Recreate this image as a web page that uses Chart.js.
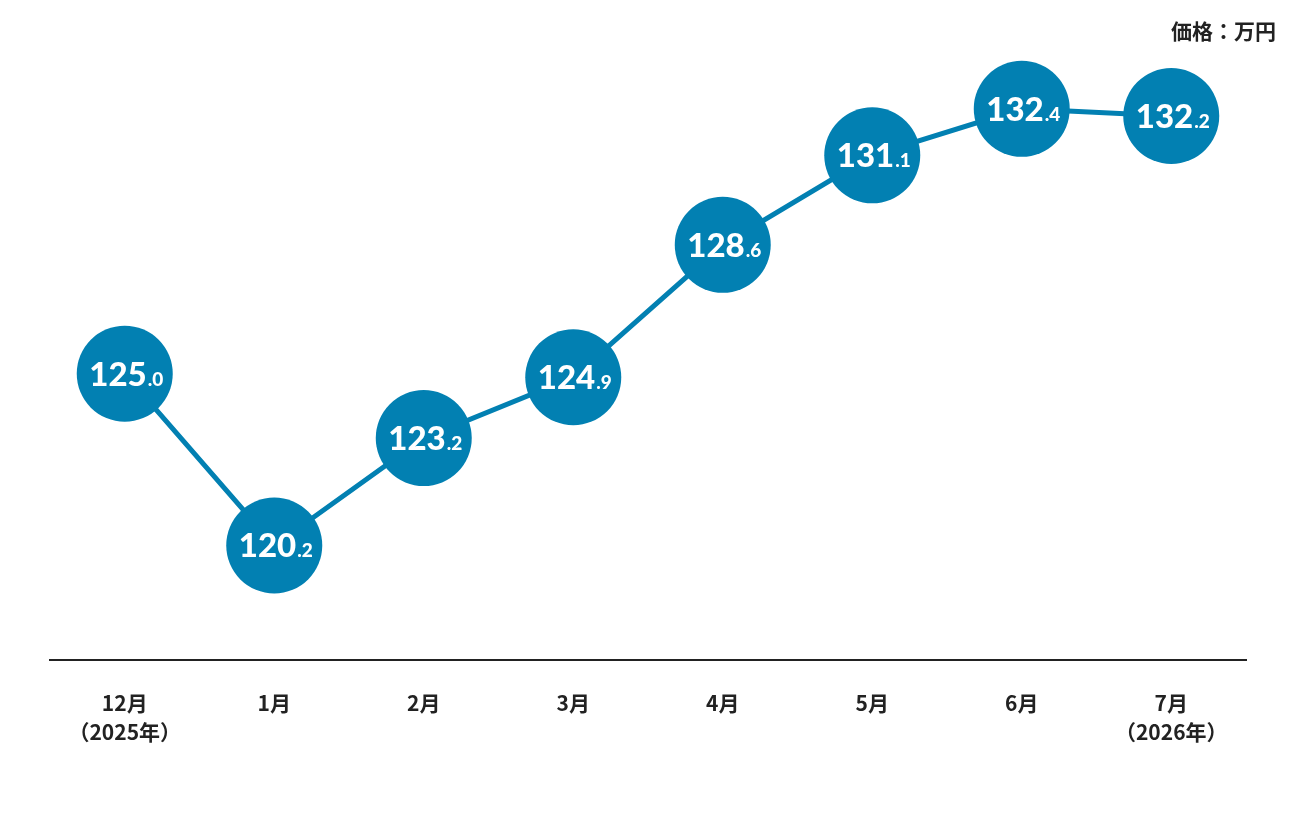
<!DOCTYPE html>
<html>
<head>
<meta charset="utf-8">
<script src="https://cdn.jsdelivr.net/npm/chart.js@4.4.1/dist/chart.umd.min.js"></script>
<style>
  html, body { margin: 0; padding: 0; background: #fff; }
  #wrap { width: 1296px; height: 816px; }
</style>
</head>
<body>
<div id="wrap"><canvas id="price-chart"></canvas></div>
<script>
// months (x labels), two lines where the year is shown
let monthLabels = [['12月', '（2025年）'], '1月', '2月', '3月', '4月', '5月', '6月', ['7月', '（2026年）']];
let priceValues = [125.0, 120.2, 123.2, 124.9, 128.6, 131.1, 132.4, 132.2];
let unitText = '価格：万円';

const blue = '#0280b2';

// big number + small decimal inside each circle
const valueBubbles = {
    id: 'valueBubbles',
    afterDatasetsDraw(chart) {
        const ctx = chart.ctx;
        const meta = chart.getDatasetMeta(0);
        ctx.save();
        ctx.fillStyle = '#fff';
        ctx.textBaseline = 'alphabetic';
        ctx.textAlign = 'left';
        meta.data.forEach((pt, i) => {
            let parts = priceValues[i].toFixed(1).split('.');
            let big = parts[0], small = '.' + parts[1];
            ctx.font = '900 33px Lato';
            let wb = ctx.measureText(big).width;
            ctx.font = '900 19px Lato';
            let ws = ctx.measureText(small).width;
            let x0 = pt.x - (wb + ws) / 2 + 1;
            let yb = pt.y + 12;
            ctx.font = '900 33px Lato';
            ctx.fillText(big, x0, yb);
            ctx.font = '900 19px Lato';
            ctx.fillText(small, x0 + wb + 1, yb);
        });
        ctx.restore();
    }
};

// unit note top right
const unitNote = {
    id: 'unitNote',
    afterDraw(chart) {
        const ctx = chart.ctx;
        ctx.save();
        ctx.font = 'bold 21px "Noto Sans CJK JP"';
        ctx.fillStyle = '#222';
        ctx.textAlign = 'right';
        ctx.textBaseline = 'middle';
        ctx.fillText(unitText, 1276, 31);
        ctx.restore();
    }
};

const priceChart = new Chart(document.getElementById('price-chart'), {
    type: 'line',
    data: {
        labels: monthLabels,
        datasets: [{
            data: priceValues,
            borderColor: blue,
            borderWidth: 5,
            pointRadius: 48,
            pointHoverRadius: 48,
            pointBackgroundColor: blue,
            pointBorderWidth: 0,
            tension: 0,
            clip: false
        }]
    },
    options: {
        responsive: true,
        maintainAspectRatio: false,
        animation: false,
        events: [],
        layout: { padding: { top: 15, left: 50, right: 50, bottom: 0 } },
        plugins: {
            legend: { display: false },
            tooltip: { enabled: false }
        },
        scales: {
            x: {
                offset: true,
                grid: { display: false, drawTicks: false },
                border: { display: true, color: '#222', width: 2 },
                ticks: {
                    color: '#222',
                    padding: 28,
                    maxRotation: 0,
                    autoSkip: false,
                    font: { family: '"Noto Sans CJK JP"', size: 21, weight: 'bold', lineHeight: 1.4 }
                },
                afterFit(scale) { scale.height = 156; }
            },
            y: {
                display: false,
                min: 117,
                max: 134.1
            }
        }
    },
    plugins: [valueBubbles, unitNote]
});
</script>
</body>
</html>
